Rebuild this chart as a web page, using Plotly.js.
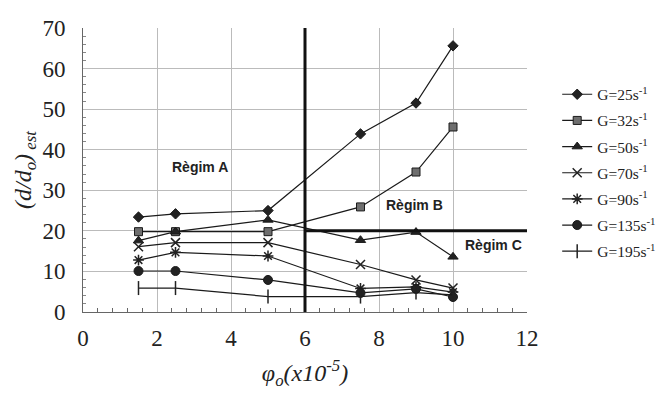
<!DOCTYPE html>
<html>
<head>
<meta charset="utf-8">
<script src="https://cdn.plot.ly/plotly-3.0.1.min.js"></script>
<style>html,body{margin:0;padding:0;background:#fff;}#chart{width:663px;height:393px;}</style>
</head>
<body>
<div id="chart"></div>
<script>
const phi = [1.5, 2.5, 5, 7.5, 9, 10];
const seriesNames = ["G=25s<sup>-1</sup>", "G=32s<sup>-1</sup>", "G=50s<sup>-1</sup>", "G=70s<sup>-1</sup>", "G=90s<sup>-1</sup>", "G=135s<sup>-1</sup>", "G=195s<sup>-1</sup>"];
const g25 = [23.4, 24.2, 25.0, 43.9, 51.5, 65.6];
const g32 = [19.8, 19.8, 19.8, 25.9, 34.5, 45.6];
const g50 = [17.6, 19.8, 22.7, 17.7, 19.7, 13.6];
const g70 = [16.1, 17.1, 17.1, 11.7, 7.9, 5.9];
const g90 = [12.8, 14.7, 13.8, 5.8, 6.2, 4.9];
const g135 = [10.1, 10.1, 7.9, 4.7, 5.7, 3.7];
const g195 = [5.9, 5.9, 3.8, 3.8, 4.8, 4.2];
const boundaryABx = [6, 6];
const boundaryABy = [0, 70];
const boundaryBCx = [6, 12];
const boundaryBCy = [20, 20];
const regimeLabels = ["Règim A", "Règim B", "Règim C"];
const regimeX = [3.15, 8.95, 11.1];
const regimeY = [35.7, 26.4, 16.5];

const SERIF = "Liberation Serif, Times New Roman, serif";
const allY = [g25, g32, g50, g70, g90, g135, g195];
const symbols = ["diamond", "square", "triangle-up", "x-thin-open", "asterisk-open", "circle", "line-ns-open"];
const sizes = [8, 8, 9, 9, 9, 9, 10];
const fills = ["#222", "#6e6e6e", "#222", "#222", "#222", "#222", "#222"];

const traces = allY.map((ys, i) => ({
  x: phi, y: ys, name: seriesNames[i], type: "scatter", mode: "lines+markers",
  legendgroup: "grp" + i,
  line: {color: "#1a1a1a", width: 1.2},
  marker: {symbol: symbols[i], size: sizes[i], color: fills[i],
           line: {color: "#1a1a1a", width: (i >= 3 && i <= 4) || i === 6 ? 1.5 : 1}},
  cliponaxis: false
}));
traces.push({x: boundaryABx, y: boundaryABy, mode: "lines", showlegend: false, hoverinfo: "skip",
  line: {color: "#111", width: 3}});
traces.push({x: boundaryBCx, y: boundaryBCy, mode: "lines", showlegend: false, hoverinfo: "skip",
  line: {color: "#111", width: 3}});

const annotations = regimeLabels.map((t, i) => ({
  x: regimeX[i], y: regimeY[i], xref: "x", yref: "y", text: "<b>" + t + "</b>", showarrow: false,
  font: {family: "Liberation Sans, Arial, sans-serif", size: 14, color: "#222"}
}));

const layout = {
  width: 663, height: 393,
  margin: {l: 83, r: 136, t: 28, b: 81, autoexpand: false},
  paper_bgcolor: "#fff", plot_bgcolor: "#fff",
  showlegend: true,
  legend: {x: 1.068, y: 0.825, xanchor: "left", yanchor: "top",
    font: {family: SERIF, size: 15.5, color: "#222"},
    tracegroupgap: 3, itemwidth: 30, bgcolor: "rgba(0,0,0,0)"},
  xaxis: {range: [0, 12], dtick: 2, tick0: 0, showgrid: true, gridcolor: "#bbb", gridwidth: 1,
    showline: true, linecolor: "#666", linewidth: 1, zeroline: false,
    ticks: "", tickfont: {family: SERIF, size: 23, color: "#222"},
    ticklabelstandoff: 5,
    minor: {dtick: 0.4, ticks: "inside", ticklen: 4, tickcolor: "#666", showgrid: false},
    title: {text: "<i>φ<sub>o</sub>(x10<sup>-5</sup>)</i>", standoff: 14,
      font: {family: SERIF, size: 24, color: "#222"}}},
  yaxis: {range: [0, 70], dtick: 10, showgrid: true, gridcolor: "#bbb", gridwidth: 1,
    showline: true, linecolor: "#666", linewidth: 1, zeroline: false,
    ticks: "", tickfont: {family: SERIF, size: 23, color: "#222"},
    ticklabelstandoff: 12,
    minor: {dtick: 2, ticks: "inside", ticklen: 3, tickcolor: "#888", showgrid: false},
    title: {text: "<i>(d/d<sub>o</sub>)<sub> est</sub></i>", standoff: 4,
      font: {family: SERIF, size: 24, color: "#222"}}},
  annotations: annotations
};

Plotly.newPlot("chart", traces, layout, {displayModeBar: false, staticPlot: true});
</script>
</body>
</html>
